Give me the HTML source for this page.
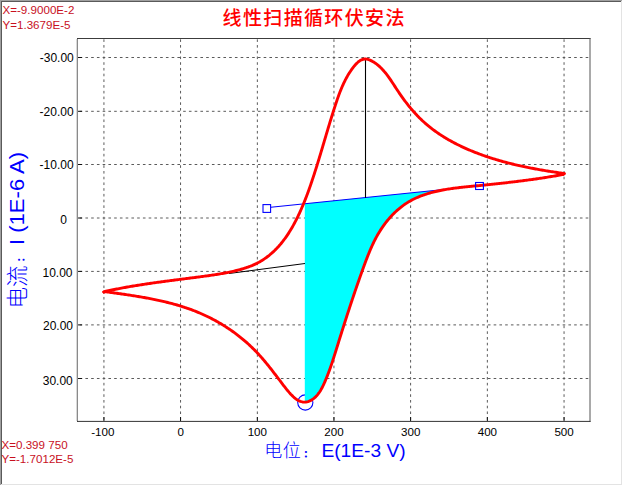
<!DOCTYPE html>
<html><head><meta charset="utf-8"><style>
html,body{margin:0;padding:0;background:#fff;width:623px;height:486px;overflow:hidden}
svg{display:block}
.sm{font-family:"Liberation Sans",Arial,sans-serif;font-size:11.6px;fill:#000}
.rd{font-family:"Liberation Sans",Arial,sans-serif;font-size:11.6px;fill:#c8101e}
.ttl{font-family:"Liberation Sans","Noto Sans CJK SC",sans-serif;font-size:19px;font-weight:500;fill:#ff0000;letter-spacing:1.35px}
.ax{font-family:"Liberation Sans","Noto Sans CJK SC",sans-serif;font-size:19.2px;fill:#0000ff}
.cj{font-family:"Noto Sans CJK SC",sans-serif;font-weight:300}
</style></head><body>
<svg width="623" height="486" viewBox="0 0 623 486">
<rect x="0" y="0" width="623" height="486" fill="#fff"/>
<g fill="none" stroke-width="1" shape-rendering="crispEdges">
<path d="M0.5,485 V0.5 H622" stroke="#a0a0a0"/>
<path d="M1.5,484 V1.5 H621" stroke="#5a5a5a"/>
<path d="M1,484.5 H621.5 V1" stroke="#e3e3e3"/>
</g>
<g stroke="#5a5a5a" stroke-width="1" fill="none">
<line x1="103.93" y1="39" x2="103.93" y2="421" stroke-dasharray="2.6 3.125" stroke-dashoffset="5.4"/>
<line x1="180.55" y1="39" x2="180.55" y2="421" stroke-dasharray="2.6 3.125" stroke-dashoffset="5.4"/>
<line x1="257.35" y1="39" x2="257.35" y2="421" stroke-dasharray="2.6 3.125" stroke-dashoffset="5.4"/>
<line x1="333.95" y1="39" x2="333.95" y2="421" stroke-dasharray="2.6 3.125" stroke-dashoffset="5.4"/>
<line x1="410.60" y1="39" x2="410.60" y2="421" stroke-dasharray="2.6 3.125" stroke-dashoffset="5.4"/>
<line x1="487.35" y1="39" x2="487.35" y2="421" stroke-dasharray="2.6 3.125" stroke-dashoffset="5.4"/>
<line x1="564.05" y1="39" x2="564.05" y2="421" stroke-dasharray="2.6 3.125" stroke-dashoffset="5.4"/>
<line x1="78" y1="57.50" x2="589" y2="57.50" stroke-dasharray="2.6 3.15" stroke-dashoffset="4.08"/>
<line x1="78" y1="111.30" x2="589" y2="111.30" stroke-dasharray="2.6 3.15" stroke-dashoffset="4.08"/>
<line x1="78" y1="164.50" x2="589" y2="164.50" stroke-dasharray="2.6 3.15" stroke-dashoffset="4.08"/>
<line x1="78" y1="218.00" x2="589" y2="218.00" stroke-dasharray="2.6 3.15" stroke-dashoffset="4.08"/>
<line x1="78" y1="271.40" x2="589" y2="271.40" stroke-dasharray="2.6 3.15" stroke-dashoffset="4.08"/>
<line x1="78" y1="324.90" x2="589" y2="324.90" stroke-dasharray="2.6 3.15" stroke-dashoffset="4.08"/>
<line x1="78" y1="378.50" x2="589" y2="378.50" stroke-dasharray="2.6 3.15" stroke-dashoffset="4.08"/>
</g>
<circle cx="305.3" cy="402.5" r="7.6" fill="none" stroke="#0000ff" stroke-width="1.1"/>
<polygon points="304.80,203.83 304.80,402.60 305.85,402.03 306.97,401.84 308.08,401.55 309.16,401.16 310.23,400.69 311.26,400.15 312.26,399.55 313.22,398.89 314.14,398.17 315.01,397.41 315.85,396.60 316.66,395.75 317.43,394.86 318.18,393.93 318.89,392.96 319.57,391.97 320.23,390.94 320.86,389.89 321.47,388.82 322.05,387.73 322.62,386.62 323.17,385.50 323.70,384.36 324.22,383.22 324.73,382.08 325.22,380.93 325.71,379.79 326.18,378.64 326.65,377.50 327.11,376.36 327.56,375.22 328.00,374.08 328.43,372.94 328.86,371.80 329.28,370.66 329.70,369.53 330.10,368.39 330.51,367.26 330.90,366.12 331.29,364.99 331.68,363.86 332.06,362.72 332.44,361.59 332.81,360.46 333.18,359.32 333.55,358.19 333.91,357.06 334.27,355.93 334.63,354.80 334.99,353.66 335.34,352.53 335.70,351.40 336.05,350.26 336.40,349.13 336.75,348.00 337.11,346.86 337.46,345.73 337.81,344.59 338.16,343.45 338.52,342.32 338.87,341.18 339.22,340.04 339.58,338.90 339.94,337.76 340.29,336.62 340.65,335.48 341.01,334.34 341.37,333.20 341.73,332.06 342.09,330.92 342.45,329.78 342.81,328.63 343.17,327.49 343.54,326.35 343.90,325.20 344.26,324.06 344.63,322.92 345.00,321.77 345.36,320.63 345.73,319.49 346.10,318.34 346.47,317.20 346.84,316.05 347.21,314.91 347.58,313.76 347.95,312.62 348.33,311.47 348.70,310.33 349.08,309.18 349.45,308.04 349.83,306.90 350.21,305.75 350.58,304.61 350.96,303.46 351.34,302.32 351.72,301.18 352.11,300.03 352.49,298.89 352.87,297.75 353.26,296.60 353.64,295.46 354.03,294.32 354.42,293.18 354.80,292.04 355.19,290.90 355.58,289.76 355.97,288.62 356.37,287.48 356.76,286.34 357.15,285.20 357.55,284.07 357.94,282.93 358.34,281.79 358.74,280.66 359.14,279.52 359.54,278.39 359.94,277.25 360.34,276.12 360.74,274.99 361.15,273.86 361.55,272.73 361.96,271.60 362.36,270.47 362.77,269.34 363.18,268.21 363.59,267.09 364.00,265.96 364.42,264.84 364.83,263.72 365.24,262.59 365.66,261.47 366.08,260.35 366.51,259.24 366.93,258.12 367.37,257.01 367.80,255.90 368.24,254.79 368.68,253.68 369.13,252.57 369.59,251.47 370.05,250.37 370.52,249.27 371.00,248.18 371.48,247.09 371.97,246.00 372.47,244.91 372.97,243.83 373.49,242.75 374.01,241.68 374.55,240.61 375.09,239.54 375.64,238.48 376.21,237.42 376.78,236.37 377.37,235.32 377.97,234.27 378.58,233.23 379.21,232.20 379.84,231.17 380.49,230.14 381.15,229.12 381.83,228.11 382.51,227.11 383.21,226.11 383.92,225.12 384.64,224.13 385.38,223.16 386.12,222.20 386.88,221.24 387.65,220.29 388.43,219.36 389.22,218.43 390.02,217.52 390.83,216.61 391.66,215.72 392.49,214.84 393.34,213.97 394.19,213.12 395.06,212.28 395.94,211.45 396.83,210.63 397.72,209.84 398.63,209.05 399.55,208.28 400.47,207.53 401.41,206.79 402.36,206.07 403.31,205.37 404.28,204.68 405.25,204.01 406.24,203.36 407.23,202.73 408.23,202.11 409.24,201.52 410.26,200.93 411.29,200.37 412.33,199.82 413.37,199.29 414.42,198.77 415.48,198.27 416.55,197.78 417.62,197.31 418.70,196.85 419.79,196.40 420.88,195.97 421.98,195.56 423.09,195.15 424.20,194.76 425.32,194.38 426.45,194.02 427.58,193.66 428.71,193.32 429.86,192.99 431.00,192.67 432.15,192.36 433.31,192.06 434.47,191.77 435.64,191.49 436.80,191.22 437.98,190.96 439.16,190.71 440.34,190.47 441.52,190.24 442.71,190.01 443.90,189.80 445.09,189.59 446.29,189.38 447.49,189.19 448.69,189.00 449.11,188.94" fill="#00ffff"/>
<line x1="229" y1="273.5" x2="305" y2="263.5" stroke="#000" stroke-width="1"/>
<line x1="270.8" y1="207.3" x2="475.5" y2="186.2" stroke="#0000ff" stroke-width="1.1"/>
<line x1="365.5" y1="59" x2="365.5" y2="197.8" stroke="#000" stroke-width="1.1"/>
<g fill="none" stroke="#ff0000" stroke-width="2.9" stroke-linejoin="round" stroke-linecap="round">
<polyline points="103.80,292.00 104.92,291.50 106.10,291.24 107.27,290.98 108.45,290.73 109.62,290.48 110.80,290.23 111.97,289.98 113.15,289.74 114.33,289.50 115.51,289.26 116.68,289.03 117.86,288.80 119.04,288.57 120.22,288.35 121.40,288.12 122.58,287.90 123.76,287.69 124.94,287.47 126.12,287.26 127.31,287.05 128.49,286.84 129.67,286.63 130.85,286.43 132.04,286.23 133.22,286.03 134.41,285.83 135.59,285.64 136.77,285.45 137.96,285.26 139.14,285.07 140.33,284.88 141.52,284.70 142.70,284.51 143.89,284.33 145.08,284.15 146.26,283.97 147.45,283.80 148.64,283.62 149.83,283.45 151.02,283.27 152.20,283.10 153.39,282.93 154.58,282.76 155.77,282.60 156.96,282.43 158.15,282.27 159.34,282.10 160.53,281.94 161.72,281.78 162.91,281.62 164.10,281.46 165.29,281.30 166.48,281.14 167.67,280.98 168.87,280.82 170.06,280.67 171.25,280.51 172.44,280.36 173.63,280.20 174.82,280.05 176.02,279.89 177.21,279.74 178.40,279.59 179.59,279.43 180.79,279.28 181.98,279.13 183.17,278.98 184.36,278.82 185.56,278.67 186.75,278.52 187.94,278.36 189.14,278.21 190.33,278.06 191.52,277.90 192.72,277.75 193.91,277.60 195.10,277.44 196.30,277.29 197.49,277.13 198.68,276.97 199.87,276.82 201.07,276.66 202.26,276.50 203.45,276.34 204.65,276.18 205.84,276.02 207.03,275.86 208.22,275.69 209.42,275.52 210.61,275.35 211.80,275.18 212.99,275.00 214.17,274.82 215.36,274.64 216.55,274.45 217.74,274.26 218.92,274.06 220.11,273.86 221.29,273.66 222.47,273.45 223.65,273.24 224.83,273.02 226.01,272.79 227.19,272.56 228.36,272.32 229.54,272.08 230.71,271.83 231.88,271.57 233.05,271.31 234.21,271.04 235.38,270.76 236.54,270.48 237.70,270.18 238.86,269.88 240.02,269.57 241.17,269.25 242.32,268.92 243.47,268.58 244.61,268.23 245.75,267.86 246.89,267.48 248.02,267.09 249.14,266.68 250.26,266.26 251.37,265.82 252.47,265.37 253.57,264.89 254.66,264.40 255.74,263.89 256.82,263.37 257.88,262.82 258.94,262.25 259.99,261.65 261.02,261.04 262.05,260.41 263.07,259.77 264.08,259.10 265.07,258.42 266.06,257.72 267.03,257.00 268.00,256.26 268.95,255.52 269.88,254.75 270.81,253.98 271.72,253.19 272.62,252.38 273.51,251.56 274.39,250.74 275.25,249.90 276.09,249.05 276.93,248.18 277.75,247.31 278.56,246.43 279.35,245.53 280.14,244.63 280.91,243.71 281.67,242.79 282.42,241.86 283.15,240.92 283.88,239.97 284.59,239.01 285.30,238.04 285.99,237.06 286.67,236.08 287.35,235.09 288.01,234.09 288.66,233.09 289.31,232.08 289.94,231.06 290.57,230.04 291.18,229.01 291.79,227.97 292.39,226.93 292.98,225.89 293.57,224.84 294.14,223.78 294.71,222.72 295.27,221.66 295.82,220.59 296.37,219.52 296.91,218.45 297.44,217.37 297.97,216.29 298.49,215.21 299.00,214.12 299.51,213.03 300.01,211.94 300.50,210.85 300.99,209.75 301.48,208.65 301.95,207.55 302.43,206.44 302.90,205.34 303.36,204.23 303.81,203.12 304.27,202.00 304.71,200.89 305.16,199.77 305.60,198.65 306.03,197.53 306.46,196.41 306.89,195.28 307.31,194.15 307.73,193.03 308.14,191.90 308.55,190.77 308.96,189.64 309.36,188.50 309.76,187.37 310.16,186.23 310.55,185.10 310.94,183.96 311.33,182.82 311.72,181.69 312.10,180.55 312.48,179.41 312.86,178.27 313.24,177.13 313.61,175.99 313.99,174.85 314.36,173.70 314.72,172.56 315.09,171.42 315.46,170.27 315.82,169.13 316.18,167.99 316.54,166.84 316.90,165.70 317.25,164.55 317.61,163.41 317.96,162.26 318.31,161.11 318.66,159.97 319.01,158.82 319.36,157.67 319.71,156.52 320.06,155.37 320.40,154.23 320.75,153.08 321.09,151.93 321.44,150.78 321.78,149.63 322.12,148.48 322.47,147.33 322.81,146.18 323.15,145.03 323.49,143.88 323.83,142.73 324.17,141.58 324.52,140.43 324.86,139.28 325.20,138.13 325.54,136.98 325.88,135.83 326.22,134.68 326.57,133.53 326.91,132.38 327.25,131.23 327.60,130.08 327.94,128.93 328.29,127.78 328.63,126.64 328.98,125.49 329.33,124.34 329.68,123.19 330.03,122.04 330.38,120.89 330.73,119.74 331.09,118.59 331.44,117.45 331.80,116.30 332.16,115.15 332.52,114.01 332.88,112.86 333.24,111.71 333.61,110.57 333.98,109.42 334.35,108.28 334.72,107.13 335.09,105.99 335.46,104.85 335.84,103.70 336.22,102.56 336.61,101.42 336.99,100.28 337.38,99.14 337.78,98.00 338.18,96.86 338.59,95.73 339.00,94.60 339.43,93.47 339.85,92.34 340.29,91.22 340.74,90.10 341.19,88.98 341.66,87.87 342.13,86.76 342.61,85.65 343.11,84.55 343.62,83.45 344.14,82.36 344.67,81.27 345.22,80.19 345.78,79.11 346.36,78.03 346.95,76.97 347.55,75.91 348.17,74.85 348.81,73.80 349.47,72.76 350.14,71.73 350.83,70.70 351.54,69.68 352.27,68.66 353.02,67.66 353.79,66.66 354.58,65.69 355.39,64.75 356.22,63.85 357.07,63.00 357.95,62.21 358.84,61.49 359.75,60.84 360.69,60.28 361.64,59.81 362.62,59.44 363.61,59.19 364.63,59.06 365.67,59.06 366.73,59.18 367.80,59.41 368.87,59.73 369.94,60.14 371.00,60.62 372.05,61.16 373.08,61.74 374.09,62.35 375.07,63.00 376.03,63.68 376.97,64.38 377.89,65.12 378.79,65.88 379.66,66.66 380.52,67.47 381.37,68.30 382.19,69.16 383.00,70.03 383.79,70.93 384.57,71.84 385.34,72.77 386.10,73.71 386.84,74.67 387.57,75.64 388.30,76.63 389.01,77.62 389.72,78.63 390.42,79.64 391.11,80.67 391.80,81.69 392.49,82.73 393.17,83.76 393.85,84.80 394.53,85.85 395.20,86.89 395.88,87.93 396.56,88.97 397.24,90.00 397.92,91.03 398.61,92.06 399.30,93.08 400.00,94.09 400.70,95.10 401.40,96.11 402.11,97.10 402.82,98.10 403.53,99.08 404.25,100.06 404.98,101.03 405.71,102.00 406.45,102.96 407.19,103.92 407.93,104.86 408.68,105.80 409.44,106.74 410.20,107.67 410.97,108.59 411.75,109.50 412.53,110.41 413.31,111.31 414.11,112.20 414.91,113.08 415.71,113.96 416.53,114.83 417.34,115.69 418.17,116.54 419.00,117.39 419.84,118.23 420.69,119.06 421.55,119.88 422.41,120.69 423.28,121.50 424.16,122.29 425.05,123.08 425.94,123.86 426.84,124.63 427.75,125.40 428.67,126.15 429.59,126.90 430.52,127.64 431.46,128.37 432.40,129.09 433.35,129.81 434.31,130.52 435.27,131.22 436.24,131.91 437.22,132.59 438.20,133.27 439.19,133.94 440.18,134.60 441.18,135.25 442.19,135.90 443.20,136.54 444.22,137.17 445.24,137.79 446.27,138.41 447.30,139.02 448.34,139.63 449.38,140.22 450.43,140.81 451.48,141.39 452.54,141.97 453.60,142.54 454.66,143.10 455.73,143.65 456.80,144.20 457.88,144.74 458.96,145.28 460.05,145.80 461.14,146.33 462.23,146.84 463.33,147.35 464.42,147.85 465.53,148.35 466.63,148.84 467.74,149.32 468.85,149.80 469.96,150.27 471.08,150.74 472.20,151.20 473.32,151.65 474.44,152.10 475.57,152.55 476.70,152.98 477.83,153.41 478.96,153.84 480.09,154.26 481.23,154.67 482.36,155.08 483.50,155.49 484.64,155.88 485.78,156.28 486.92,156.66 488.06,157.05 489.21,157.42 490.35,157.80 491.49,158.16 492.64,158.53 493.79,158.88 494.94,159.23 496.08,159.58 497.23,159.93 498.39,160.26 499.54,160.60 500.69,160.93 501.84,161.25 503.00,161.57 504.15,161.89 505.31,162.20 506.47,162.50 507.63,162.81 508.79,163.11 509.95,163.40 511.11,163.69 512.27,163.98 513.43,164.26 514.60,164.54 515.76,164.81 516.93,165.08 518.10,165.35 519.26,165.62 520.43,165.88 521.60,166.13 522.77,166.39 523.94,166.64 525.12,166.88 526.29,167.13 527.46,167.37 528.64,167.60 529.81,167.84 530.99,168.07 532.17,168.29 533.34,168.52 534.52,168.74 535.70,168.96 536.88,169.18 538.06,169.39 539.25,169.60 540.43,169.81 541.61,170.01 542.80,170.22 543.98,170.42 545.17,170.62 546.36,170.81 547.54,171.01 548.73,171.20 549.92,171.39 551.11,171.57 552.30,171.76 553.50,171.94 554.69,172.12 555.88,172.30 557.07,172.48 558.27,172.66 559.46,172.83 560.66,173.01 561.86,173.18 563.06,173.35 564.20,173.60"/>
<polyline points="564.20,173.60 563.32,174.45 562.12,174.67 560.91,174.89 559.70,175.11 558.50,175.32 557.30,175.53 556.10,175.74 554.90,175.95 553.70,176.15 552.51,176.35 551.31,176.55 550.12,176.75 548.93,176.94 547.73,177.13 546.54,177.32 545.35,177.51 544.17,177.70 542.98,177.88 541.79,178.06 540.61,178.24 539.42,178.42 538.24,178.59 537.05,178.77 535.87,178.94 534.69,179.11 533.51,179.28 532.33,179.44 531.15,179.61 529.97,179.77 528.79,179.93 527.61,180.09 526.43,180.25 525.25,180.40 524.07,180.56 522.89,180.71 521.72,180.86 520.54,181.01 519.36,181.16 518.18,181.31 517.00,181.45 515.82,181.59 514.65,181.74 513.47,181.88 512.29,182.02 511.11,182.16 509.93,182.30 508.75,182.43 507.57,182.57 506.39,182.70 505.21,182.84 504.03,182.97 502.84,183.10 501.66,183.23 500.48,183.36 499.29,183.49 498.11,183.62 496.92,183.74 495.74,183.87 494.55,183.99 493.36,184.12 492.17,184.24 490.98,184.37 489.79,184.49 488.59,184.61 487.40,184.73 486.20,184.85 485.01,184.97 483.81,185.09 482.61,185.21 481.41,185.33 480.21,185.45 479.00,185.57 477.80,185.69 476.59,185.81 475.38,185.93 474.17,186.04 472.96,186.16 471.75,186.28 470.53,186.40 469.32,186.52 468.10,186.64 466.89,186.76 465.67,186.89 464.45,187.01 463.24,187.14 462.02,187.28 460.80,187.41 459.59,187.55 458.37,187.69 457.16,187.84 455.94,187.99 454.73,188.14 453.52,188.30 452.31,188.47 451.10,188.64 449.89,188.82 448.69,189.00 447.49,189.19 446.29,189.38 445.09,189.59 443.90,189.80 442.71,190.01 441.52,190.24 440.34,190.47 439.16,190.71 437.98,190.96 436.80,191.22 435.64,191.49 434.47,191.77 433.31,192.06 432.15,192.36 431.00,192.67 429.86,192.99 428.71,193.32 427.58,193.66 426.45,194.02 425.32,194.38 424.20,194.76 423.09,195.15 421.98,195.56 420.88,195.97 419.79,196.40 418.70,196.85 417.62,197.31 416.55,197.78 415.48,198.27 414.42,198.77 413.37,199.29 412.33,199.82 411.29,200.37 410.26,200.93 409.24,201.52 408.23,202.11 407.23,202.73 406.24,203.36 405.25,204.01 404.28,204.68 403.31,205.37 402.36,206.07 401.41,206.79 400.47,207.53 399.55,208.28 398.63,209.05 397.72,209.84 396.83,210.63 395.94,211.45 395.06,212.28 394.19,213.12 393.34,213.97 392.49,214.84 391.66,215.72 390.83,216.61 390.02,217.52 389.22,218.43 388.43,219.36 387.65,220.29 386.88,221.24 386.12,222.20 385.38,223.16 384.64,224.13 383.92,225.12 383.21,226.11 382.51,227.11 381.83,228.11 381.15,229.12 380.49,230.14 379.84,231.17 379.21,232.20 378.58,233.23 377.97,234.27 377.37,235.32 376.78,236.37 376.21,237.42 375.64,238.48 375.09,239.54 374.55,240.61 374.01,241.68 373.49,242.75 372.97,243.83 372.47,244.91 371.97,246.00 371.48,247.09 371.00,248.18 370.52,249.27 370.05,250.37 369.59,251.47 369.13,252.57 368.68,253.68 368.24,254.79 367.80,255.90 367.37,257.01 366.93,258.12 366.51,259.24 366.08,260.35 365.66,261.47 365.24,262.59 364.83,263.72 364.42,264.84 364.00,265.96 363.59,267.09 363.18,268.21 362.77,269.34 362.36,270.47 361.96,271.60 361.55,272.73 361.15,273.86 360.74,274.99 360.34,276.12 359.94,277.25 359.54,278.39 359.14,279.52 358.74,280.66 358.34,281.79 357.94,282.93 357.55,284.07 357.15,285.20 356.76,286.34 356.37,287.48 355.97,288.62 355.58,289.76 355.19,290.90 354.80,292.04 354.42,293.18 354.03,294.32 353.64,295.46 353.26,296.60 352.87,297.75 352.49,298.89 352.11,300.03 351.72,301.18 351.34,302.32 350.96,303.46 350.58,304.61 350.21,305.75 349.83,306.90 349.45,308.04 349.08,309.18 348.70,310.33 348.33,311.47 347.95,312.62 347.58,313.76 347.21,314.91 346.84,316.05 346.47,317.20 346.10,318.34 345.73,319.49 345.36,320.63 345.00,321.77 344.63,322.92 344.26,324.06 343.90,325.20 343.54,326.35 343.17,327.49 342.81,328.63 342.45,329.78 342.09,330.92 341.73,332.06 341.37,333.20 341.01,334.34 340.65,335.48 340.29,336.62 339.94,337.76 339.58,338.90 339.22,340.04 338.87,341.18 338.52,342.32 338.16,343.45 337.81,344.59 337.46,345.73 337.11,346.86 336.75,348.00 336.40,349.13 336.05,350.26 335.70,351.40 335.34,352.53 334.99,353.66 334.63,354.80 334.27,355.93 333.91,357.06 333.55,358.19 333.18,359.32 332.81,360.46 332.44,361.59 332.06,362.72 331.68,363.86 331.29,364.99 330.90,366.12 330.51,367.26 330.10,368.39 329.70,369.53 329.28,370.66 328.86,371.80 328.43,372.94 328.00,374.08 327.56,375.22 327.11,376.36 326.65,377.50 326.18,378.64 325.71,379.79 325.22,380.93 324.73,382.08 324.22,383.22 323.70,384.36 323.17,385.50 322.62,386.62 322.05,387.73 321.47,388.82 320.86,389.89 320.23,390.94 319.57,391.97 318.89,392.96 318.18,393.93 317.43,394.86 316.66,395.75 315.85,396.60 315.01,397.41 314.14,398.17 313.22,398.89 312.26,399.55 311.26,400.15 310.23,400.69 309.16,401.16 308.08,401.55 306.97,401.84 305.85,402.03 304.73,402.11 303.60,402.08 302.49,401.94 301.38,401.69 300.28,401.35 299.21,400.92 298.16,400.39 297.14,399.78 296.15,399.10 295.19,398.36 294.25,397.57 293.34,396.75 292.45,395.89 291.59,395.03 290.74,394.15 289.92,393.25 289.11,392.35 288.32,391.43 287.54,390.50 286.77,389.57 286.02,388.63 285.27,387.68 284.53,386.73 283.80,385.77 283.07,384.81 282.34,383.85 281.61,382.89 280.88,381.93 280.15,380.96 279.43,380.00 278.70,379.04 277.97,378.08 277.24,377.12 276.51,376.16 275.78,375.20 275.04,374.24 274.31,373.28 273.57,372.32 272.84,371.37 272.10,370.42 271.36,369.47 270.61,368.52 269.86,367.58 269.11,366.63 268.36,365.69 267.61,364.76 266.85,363.83 266.08,362.90 265.32,361.97 264.54,361.05 263.77,360.13 262.99,359.22 262.20,358.31 261.41,357.41 260.62,356.51 259.82,355.62 259.01,354.73 258.20,353.85 257.38,352.97 256.56,352.10 255.73,351.24 254.89,350.38 254.05,349.53 253.20,348.69 252.35,347.85 251.48,347.01 250.62,346.19 249.74,345.37 248.87,344.56 247.98,343.75 247.09,342.95 246.19,342.16 245.29,341.37 244.38,340.59 243.47,339.81 242.55,339.05 241.63,338.29 240.70,337.53 239.76,336.78 238.82,336.04 237.88,335.31 236.92,334.58 235.97,333.86 235.01,333.15 234.04,332.44 233.07,331.74 232.09,331.04 231.11,330.36 230.13,329.68 229.14,329.00 228.14,328.34 227.14,327.68 226.14,327.02 225.13,326.38 224.11,325.74 223.10,325.11 222.07,324.48 221.05,323.86 220.01,323.25 218.98,322.65 217.94,322.05 216.90,321.46 215.85,320.88 214.80,320.30 213.74,319.74 212.68,319.17 211.62,318.62 210.55,318.07 209.48,317.53 208.41,317.00 207.33,316.48 206.25,315.96 205.16,315.45 204.08,314.95 202.98,314.45 201.89,313.96 200.79,313.48 199.69,313.01 198.58,312.54 197.48,312.08 196.37,311.63 195.25,311.19 194.13,310.75 193.01,310.32 191.89,309.90 190.77,309.48 189.64,309.08 188.51,308.67 187.38,308.28 186.24,307.89 185.10,307.51 183.96,307.13 182.82,306.77 181.67,306.40 180.52,306.05 179.38,305.70 178.22,305.35 177.07,305.01 175.91,304.68 174.76,304.35 173.60,304.03 172.44,303.72 171.27,303.41 170.11,303.10 168.94,302.80 167.77,302.51 166.60,302.22 165.43,301.93 164.26,301.65 163.09,301.38 161.91,301.11 160.73,300.84 159.56,300.58 158.38,300.32 157.20,300.07 156.02,299.82 154.84,299.57 153.65,299.33 152.47,299.09 151.29,298.86 150.10,298.63 148.91,298.41 147.73,298.18 146.54,297.96 145.36,297.75 144.17,297.53 142.98,297.32 141.79,297.12 140.60,296.91 139.41,296.71 138.23,296.51 137.04,296.32 135.85,296.12 134.66,295.93 133.47,295.75 132.28,295.56 131.10,295.37 129.91,295.19 128.72,295.01 127.53,294.83 126.35,294.66 125.16,294.48 123.98,294.31 122.79,294.14 121.61,293.97 120.42,293.80 119.24,293.63 118.06,293.46 116.88,293.30 115.70,293.13 114.52,292.97 113.34,292.80 112.17,292.64 110.99,292.48 109.82,292.31 108.64,292.15 107.47,291.99 106.30,291.83 105.14,291.67 103.80,292.00"/>
</g>
<g fill="none" stroke="#0000ff" stroke-width="1.1">
<rect x="263" y="204.6" width="7.6" height="7.8"/>
<rect x="475.6" y="182.5" width="7.8" height="7"/>
</g>
<g stroke-width="1" fill="none">
<line x1="76.5" y1="39" x2="76.5" y2="421" stroke="#d8d8d8"/>
<line x1="77.5" y1="38" x2="77.5" y2="422" stroke="#8a8a8a"/>
<line x1="77" y1="38.5" x2="590.5" y2="38.5" stroke="#3c3c3c"/>
<line x1="590" y1="38" x2="590" y2="422" stroke="#555"/>
<line x1="77" y1="421.4" x2="590.5" y2="421.4" stroke="#333"/>
</g>
<g stroke="#111" stroke-width="1">
<line x1="103.93" y1="417" x2="103.93" y2="421" />
<line x1="180.55" y1="417" x2="180.55" y2="421" />
<line x1="257.35" y1="417" x2="257.35" y2="421" />
<line x1="333.95" y1="417" x2="333.95" y2="421" />
<line x1="410.60" y1="417" x2="410.60" y2="421" />
<line x1="487.35" y1="417" x2="487.35" y2="421" />
<line x1="564.05" y1="417" x2="564.05" y2="421" />
<line x1="78" y1="57.50" x2="82" y2="57.50" />
<line x1="78" y1="111.30" x2="82" y2="111.30" />
<line x1="78" y1="164.50" x2="82" y2="164.50" />
<line x1="78" y1="218.00" x2="82" y2="218.00" />
<line x1="78" y1="271.40" x2="82" y2="271.40" />
<line x1="78" y1="324.90" x2="82" y2="324.90" />
<line x1="78" y1="378.50" x2="82" y2="378.50" />
</g>
<g class="sm">
<text x="102.83" y="436" text-anchor="middle">-100</text>
<text x="180.62" y="436" text-anchor="middle">0</text>
<text x="257.31" y="436" text-anchor="middle">100</text>
<text x="334.00" y="436" text-anchor="middle">200</text>
<text x="410.69" y="436" text-anchor="middle">300</text>
<text x="487.38" y="436" text-anchor="middle">400</text>
<text x="564.07" y="436" text-anchor="middle">500</text>
<text x="73.75" y="61.85" text-anchor="end" style="font-size:12px">-30.00</text>
<text x="73.65" y="115.75" text-anchor="end" style="font-size:12px">-20.00</text>
<text x="73.65" y="168.75" text-anchor="end" style="font-size:12px">-10.00</text>
<text x="66.85" y="223.50" text-anchor="end" style="font-size:12px">0</text>
<text x="72.55" y="276.80" text-anchor="end" style="font-size:12px">10.00</text>
<text x="73.05" y="330.20" text-anchor="end" style="font-size:12px">20.00</text>
<text x="72.75" y="384.50" text-anchor="end" style="font-size:12px">30.00</text>
</g>
<text class="ttl" x="314.2" y="25.4" text-anchor="middle">线性扫描循环伏安法</text>
<text class="ax cj" x="264.2" y="456.6" style="font-size:18px;letter-spacing:0.5px">电位</text>
<text class="ax cj" x="303.5" y="457.3" style="font-size:9.5px;font-weight:900">：</text>
<text class="ax" x="321.4" y="457.2">E(1E-3 V)</text>
<text class="ax cj" transform="translate(24.5,308.5) rotate(-90)" style="font-size:21.5px">电流</text>
<text class="ax cj" transform="translate(23.7,262) rotate(-90)" style="font-size:9.5px;font-weight:900">：</text>
<text class="ax" transform="translate(23.8,245) rotate(-90) scale(1.15,1.03)">I (1E-6 A)</text>
<text class="rd" x="2.5" y="14">X=-9.9000E-2</text>
<text class="rd" x="2.5" y="28.5">Y=1.3679E-5</text>
<text class="rd" x="1.5" y="448.5">X=0.399 750</text>
<text class="rd" x="1.5" y="463">Y=-1.7012E-5</text>
</svg>
</body></html>
